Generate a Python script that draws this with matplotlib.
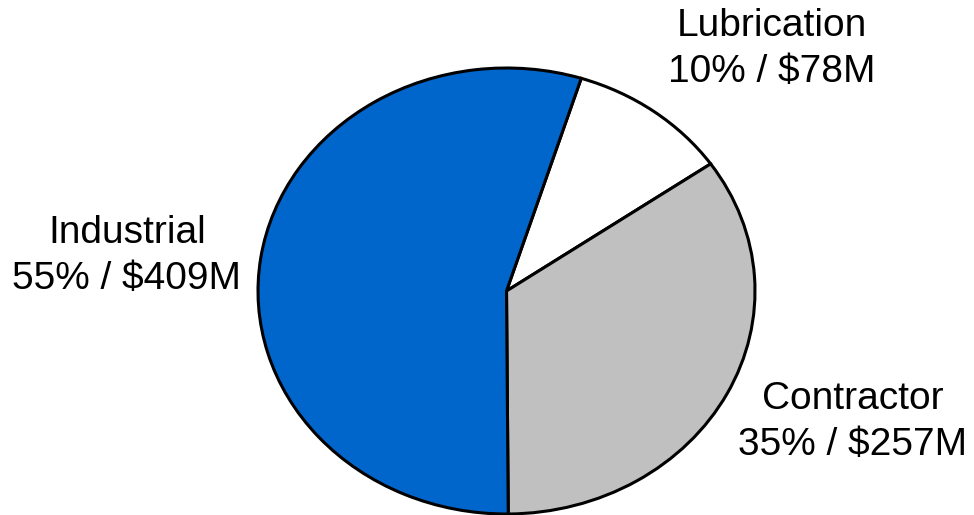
import matplotlib.pyplot as plt

segments = ["Lubrication", "Contractor", "Industrial"]
shares = [10, 35, 55]
revenue = [78, 257, 409]
colors = ["#FFFFFF", "#C0C0C0", "#0066CC"]

plt.rcParams["font.family"] = ["Liberation Sans", "DejaVu Sans"]

W, H = 974, 515
fig = plt.figure(figsize=(W / 100, H / 100), dpi=100)

# pie is drawn as an ellipse, so the axes box is sized to the ellipse bounds
left, right, top, bottom = 258, 755, 68, 514
ax = fig.add_axes([left / W, 1 - bottom / H, (right - left) / W, (bottom - top) / H])

ax.pie(
    revenue,
    colors=colors,
    startangle=72.5,
    counterclock=False,
    wedgeprops=dict(edgecolor="black", linewidth=2.2, clip_on=False),
)
ax.set_aspect("auto")
ax.set_xlim(-1, 1)
ax.set_ylim(-1, 1)
ax.axis("off")

label_pos = {
    "Lubrication": (772, 49),
    "Contractor": (853, 422),
    "Industrial": (127, 256),
}
for name, pct, val in zip(segments, shares, revenue):
    x, y = label_pos[name]
    fig.text(
        x / W, 1 - y / H,
        f"{name}\n{pct}% / ${val}M",
        ha="center", va="center",
        fontsize=28, linespacing=1.35,
    )

fig.savefig("out.png", dpi=100)
